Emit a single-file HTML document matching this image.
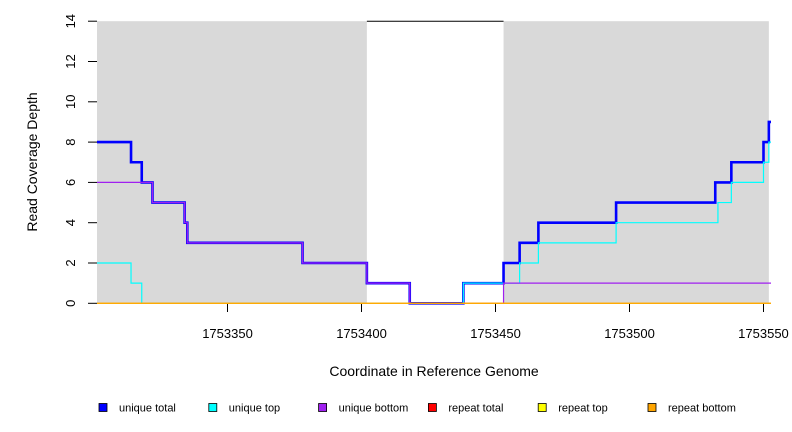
<!DOCTYPE html>
<html><head><meta charset="utf-8"><style>
body{margin:0;background:#fff}
svg{display:block;font-family:"Liberation Sans",sans-serif}
</style></head><body>
<svg id="chart" width="792" height="432" viewBox="0 0 792 432" xmlns="http://www.w3.org/2000/svg">
<g id="bg"></g>
<g id="series"></g>
<g id="axes"></g>
<text x="434" y="376" font-size="14" text-anchor="middle">Coordinate in Reference Genome</text>
<text x="0" y="0" font-size="14" text-anchor="middle" transform="translate(37,162) rotate(-90)">Read Coverage Depth</text>
<g id="legend"></g>
</svg>
<script>
const xTicks=[1753350,1753400,1753450,1753500,1753550];
const yTicks=[0,2,4,6,8,10,12,14];
const shadedRegions=[[1753301,1753402],[1753453,1753552]];
const totalPos=[1753301,1753314,1753318,1753322,1753334,1753335,1753378,1753402,1753418,1753438,1753453,1753459,1753466,1753495,1753532,1753538,1753550,1753552];
const totalVal=[8,7,6,5,4,3,2,1,0,1,2,3,4,5,6,7,8,9];
const topPos=[1753301,1753314,1753318,1753438,1753459,1753466,1753495,1753533,1753538,1753550,1753552];
const topVal=[2,1,0,1,2,3,4,5,6,7,8];
const bottomPos=[1753301,1753322,1753334,1753335,1753378,1753402,1753418,1753453];
const bottomVal=[6,5,4,3,2,1,0,1];
const repeatPos=[1753301];
const repeatVal=[0];
const legendLabels=["unique total","unique top","unique bottom","repeat total","repeat top","repeat bottom"];
const legendColors=["#0000ff","#00ffff","#a020f0","#ff0000","#ffff00","#ffa500"];

const X0=97,X1=771,Y0=303.3,Y1=21.2;
const xMin=1753301.3,xMax=1753552.8,yMin=0,yMax=14;
const sx=v=>X0+(v-xMin)/(xMax-xMin)*(X1-X0);
const sy=v=>Y0-(v-yMin)/(yMax-yMin)*(Y0-Y1);
const NS="http://www.w3.org/2000/svg";
function mk(t,a,p){const e=document.createElementNS(NS,t);for(const k in a)e.setAttribute(k,a[k]);p.appendChild(e);return e;}
const bg=document.getElementById('bg');
shadedRegions.forEach((r,i)=>{
  const x0=Math.max(sx(r[0]),X0),x1=Math.min(sx(r[1]),X1);
  const e=mk('rect',{x:x0,y:Y1,width:x1-x0,height:Y0-Y1,fill:'#d9d9d9'},bg);
  
  
});
const topLine=mk('line',{x1:sx(shadedRegions[0][1]),x2:sx(shadedRegions[1][0]),y1:sy(14),y2:sy(14),stroke:'#000','stroke-width':1},bg);



function stepPath(pos,val){
  let d='';
  for(let i=0;i<pos.length;i++){
    const x=sx(pos[i]),y=sy(val[i]);
    const xn=i+1<pos.length?sx(pos[i+1]):X1;
    if(i===0)d+=`M${Math.max(x,X0)},${y}`;else d+=`L${x},${y}`;
    d+=`L${Math.min(xn,X1)},${y}`;
  }
  return d;
}
const ser=document.getElementById('series');
function addSeries(pos,val,color,w,name){
  const p=mk('path',{d:stepPath(pos,val),fill:'none',stroke:color,'stroke-width':w},ser);
  
  
}
addSeries(totalPos,totalVal,'#0000ff',2.6,'unique-total-line');
addSeries(topPos,topVal,'#00ffff',1.2,'unique-top-line');
addSeries(bottomPos,bottomVal,'#a020f0',1.2,'unique-bottom-line');
addSeries(repeatPos,repeatVal,'#ff0000',1.2,'repeat-total-line');
addSeries(repeatPos,repeatVal,'#ffff00',1.2,'repeat-top-line');
addSeries(repeatPos,repeatVal,'#ffa500',1.2,'repeat-bottom-line');

const ax=document.getElementById('axes');
xTicks.forEach(v=>{
  const x=sx(v);
  const t=mk('line',{x1:x,x2:x,y1:304,y2:312,stroke:'#000','stroke-width':1},ax);
  
  
  const l=mk('text',{x:x,y:338,'font-size':13,'text-anchor':'middle'},ax);
  l.textContent=v;
  
  
});
yTicks.forEach(v=>{
  const y=sy(v);
  const t=mk('line',{x1:88,x2:97,y1:y,y2:y,stroke:'#000','stroke-width':1},ax);
  
  
  const l=mk('text',{x:0,y:0,'font-size':13,'text-anchor':'middle',transform:`translate(75,${y}) rotate(-90)`},ax);
  l.textContent=v;
  
  
});
const lg=document.getElementById('legend');
legendLabels.forEach((lab,i)=>{
  const x=99+i*109.8;
  const r=mk('rect',{x:x,y:403.5,width:8,height:8,fill:legendColors[i],stroke:'#000','stroke-width':0.8},lg);
  
  
  const t=mk('text',{x:x+20,y:411.5,'font-size':11},lg);
  t.textContent=lab;
  
  
});
</script>
</body></html>
